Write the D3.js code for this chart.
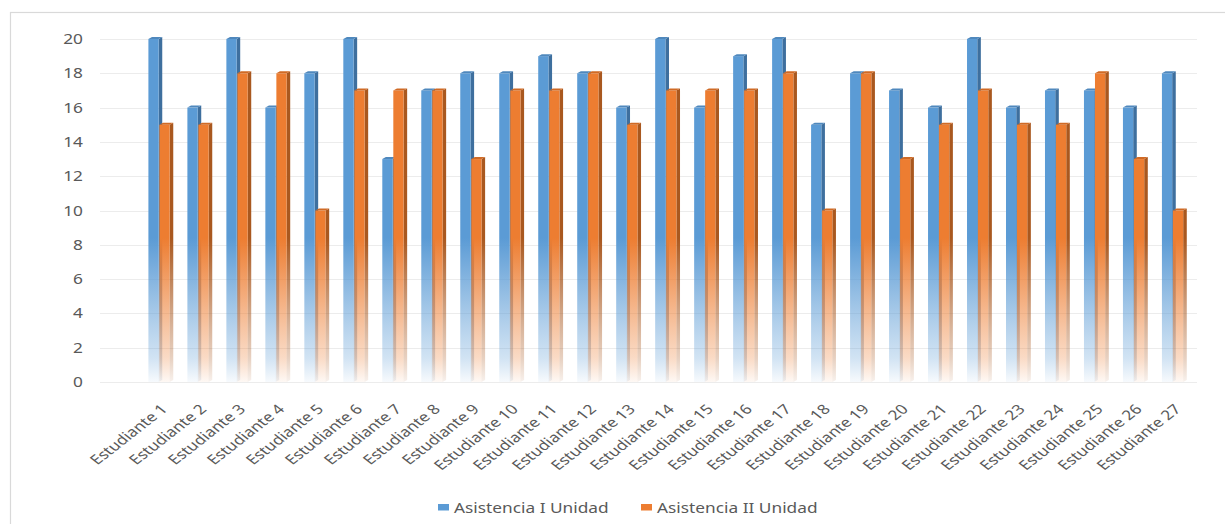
<!DOCTYPE html>
<html>
<head>
<meta charset="utf-8">
<script src="https://cdn.jsdelivr.net/npm/d3@7"></script>
<style>
  html, body { margin: 0; padding: 0; background: #ffffff; }
  svg { display: block; }
  text { font-family: "Noto Sans", "Open Sans", sans-serif; fill: #595959; }
</style>
</head>
<body>
<svg id="chart" width="1225" height="524"></svg>
<script>
// ---- data ----
const categories = ["Estudiante 1","Estudiante 2","Estudiante 3","Estudiante 4","Estudiante 5","Estudiante 6","Estudiante 7","Estudiante 8","Estudiante 9","Estudiante 10","Estudiante 11","Estudiante 12","Estudiante 13","Estudiante 14","Estudiante 15","Estudiante 16","Estudiante 17","Estudiante 18","Estudiante 19","Estudiante 20","Estudiante 21","Estudiante 22","Estudiante 23","Estudiante 24","Estudiante 25","Estudiante 26","Estudiante 27"];
const seriesNames = ["Asistencia I Unidad","Asistencia II Unidad"];
const asistenciaI  = [20,16,20,16,18,20,13,17,18,18,19,18,16,20,16,19,20,15,18,17,16,20,16,17,17,16,18];
const asistenciaII = [15,15,18,18,10,17,17,17,13,17,17,18,15,17,17,17,18,10,18,13,15,17,15,15,18,13,10];
const yTicks = [0,2,4,6,8,10,12,14,16,18,20];

// ---- layout ----
const SX = 1.28;          // horizontal stretch of the original picture
const svg = d3.select("#chart");
const defs = svg.append("defs");

// frame
svg.append("rect").attr("x",10.5).attr("y",12.5).attr("width",1240).attr("height",540)
   .attr("fill","#ffffff").attr("stroke","#d9d9d9").attr("stroke-width",1.2);

const y = d3.scaleLinear().domain([0,20]).range([382,39]);
const x0 = d3.scaleBand().domain(categories).range([141,1193.5]).padding(0);
const x1 = d3.scaleBand().domain(seriesNames)
   .range([x0.bandwidth()*0.19, x0.bandwidth()*0.755]).padding(0);

// gridlines
svg.append("g").selectAll("line").data(yTicks).join("line")
   .attr("x1",100).attr("x2",1197)
   .attr("y1",d=>Math.round(y(d))+0.5).attr("y2",d=>Math.round(y(d))+0.5)
   .attr("stroke","#ececec").attr("stroke-width",1);

// y tick labels
svg.append("g").selectAll("text").data(yTicks).join("text")
   .attr("transform",d=>`translate(83,${y(d)+5}) scale(${SX},1)`)
   .attr("text-anchor","end").attr("font-size",13.5).text(d=>d);

// gradients
const colors = [
  {front:"#5B9BD5", side:"#3E6F9E", top:"#4F88BD"},
  {front:"#ED7D31", side:"#A9581F", top:"#D06A25"}
];
function makeGrad(id, col, minOp){
  const g = defs.append("linearGradient").attr("id",id)
    .attr("gradientUnits","userSpaceOnUse")
    .attr("x1",0).attr("x2",0).attr("y1",y(20)).attr("y2",y(0));
  const stops = [[0,1],[0.58,1],[0.72,0.7],[0.84,0.45],[0.93,0.28],[1,minOp]];
  stops.forEach(s=>g.append("stop").attr("offset",s[0]).attr("stop-color",col).attr("stop-opacity",s[1]));
}
colors.forEach((c,i)=>{
  makeGrad("gf"+i, c.front, 0.05);
  makeGrad("gs"+i, c.side, 0.08);
});

const values = [asistenciaI, asistenciaII];
const depth = 3.6, rise = 2;
const frontW = x1.bandwidth()*0.93;

const bars = svg.append("g");
categories.forEach((cat,ci)=>{
  seriesNames.forEach((s,si)=>{
    const v = values[si][ci];
    const bx = x0(cat) + x1(s);
    const top = y(v), bot = y(0);
    const g = bars.append("g");
    // side face
    g.append("path")
      .attr("d",`M${bx+frontW},${top} L${bx+frontW+depth},${top-rise} L${bx+frontW+depth},${bot-rise} L${bx+frontW},${bot} Z`)
      .attr("fill",`url(#gs${si})`);
    // front face
    g.append("rect").attr("x",bx).attr("y",top).attr("width",frontW).attr("height",bot-top)
      .attr("fill",`url(#gf${si})`);
    // top face
    g.append("path")
      .attr("d",`M${bx},${top} L${bx+depth},${top-rise} L${bx+frontW+depth},${top-rise} L${bx+frontW},${top} Z`)
      .attr("fill",colors[si].top);
  });
});

// x labels
svg.append("g").selectAll("text").data(categories).join("text")
   .attr("transform",d=>`translate(${x0(d)+x0.bandwidth()/2+8},${410}) scale(${SX},1) rotate(-45)`)
   .attr("text-anchor","end").attr("font-size",13.5).text(d=>d);

// legend
const legendX = [438, 641];
const lg = svg.append("g");
seriesNames.forEach((s,i)=>{
  lg.append("rect").attr("x",legendX[i]).attr("y",504).attr("width",11).attr("height",6.5)
    .attr("fill",colors[i].front);
  lg.append("text").attr("transform",`translate(${legendX[i]+16},513) scale(${SX},1)`)
    .attr("font-size",13.5).text(s);
});
</script>
</body>
</html>
